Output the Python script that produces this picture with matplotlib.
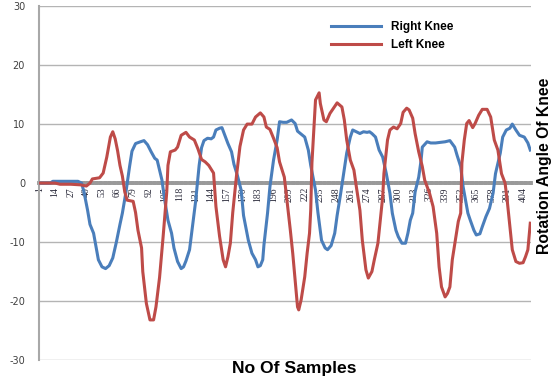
import matplotlib
matplotlib.use("Agg")
import matplotlib.pyplot as plt

# Right knee (blue) - sample number / angle
right_x = [1, 10, 12, 33, 36, 38, 41, 43, 46, 48, 50, 53, 56, 59, 62, 65, 68, 70, 73, 76,
           78, 81, 85, 88, 91, 94, 97, 99, 101, 103, 105, 108, 111, 113, 116, 119, 121, 123, 126, 128,
           131, 134, 136, 138, 141, 144, 146, 148, 151, 153, 155, 158, 161, 163, 166, 169, 171, 175, 178, 181,
           183, 185, 187, 188, 191, 193, 196, 199, 201, 204, 207, 211, 214, 216, 219, 222, 225, 227, 231, 233,
           236, 239, 241, 244, 247, 249, 252, 254, 257, 260, 262, 265, 268, 271, 274, 276, 278, 281, 284, 287,
           290, 293, 295, 298, 300, 303, 306, 308, 310, 312, 314, 317, 319, 320, 324, 327, 331, 335, 339, 343,
           347, 349, 352, 354, 356, 358, 360, 363, 365, 368, 370, 373, 376, 379, 381, 385, 387, 390, 393, 395,
           398, 401, 405, 408, 410]
right_y = [0, 0, 0.3, 0.3, 0, -1.5, -4.6, -7, -8.5, -10.8, -13, -14.2, -14.5, -14, -12.7, -10, -7, -5.1, -1.5, 2.8,
           5.4, 6.7, 7, 7.2, 6.5, 5.3, 4.2, 3.9, 2.2, 0.5, -2.5, -6.3, -8.5, -11, -13.3, -14.5, -14.2, -13.2, -11.3, -8,
           -3.2, 3, 6, 7.2, 7.6, 7.5, 7.8, 9, 9.3, 9.4, 8.3, 6.7, 5.3, 3.2, 1.2, -1.2, -5.5, -9.7, -11.9, -13,
           -14.2, -14, -13, -10.5, -5.1, -0.6, 3.9, 7.3, 10.4, 10.3, 10.3, 10.7, 10.1, 8.8, 8.3, 7.8, 5.6, 3, -1.2, -5,
           -9.7, -11, -11.3, -10.6, -8.5, -5.5, -1.7, 1, 5.1, 7.8, 9, 8.7, 8.4, 8.7, 8.6, 8.7, 8.4, 7.8, 5.6, 4.4,
           1.6, -1.7, -5.1, -8, -9.1, -10.2, -10.2, -8.5, -6.3, -5.1, -1.5, 1, 3.9, 6.1, 7, 6.8, 6.8, 6.9, 7, 7.2,
           6.1, 4.7, 2.8, -0.6, -2.9, -5.1, -6.3, -8, -8.8, -8.6, -7.4, -5.7, -4.3, -1.7, 1.6, 5.1, 7.8, 9, 9.3, 10,
           9, 8.1, 7.8, 6.8, 5.6]

# Left knee (red)
left_x = [1, 14, 18, 27, 35, 40, 43, 45, 51, 54, 57, 60, 62, 64, 66, 68, 70, 72, 74, 79,
          81, 83, 86, 87, 90, 93, 96, 98, 101, 104, 107, 108, 110, 114, 116, 119, 123, 126, 130, 133,
          136, 139, 142, 146, 148, 151, 154, 156, 158, 160, 162, 165, 168, 171, 174, 178, 181, 185, 188, 190,
          193, 196, 199, 201, 205, 207, 210, 212, 214, 216, 217, 219, 222, 224, 226, 227, 228, 230, 231, 234,
          235, 238, 240, 243, 246, 249, 253, 255, 257, 260, 263, 265, 268, 270, 273, 275, 278, 280, 283, 285,
          287, 288, 291, 293, 296, 299, 302, 304, 307, 309, 312, 314, 317, 320, 322, 326, 329, 332, 334, 336,
          339, 341, 343, 345, 348, 350, 352, 353, 355, 357, 359, 362, 364, 367, 370, 374, 377, 380, 383, 386,
          389, 391, 393, 395, 398, 401, 404, 406, 408, 410]
left_y = [0, 0, -0.2, -0.2, -0.3, -0.5, 0, 0.7, 0.9, 1.7, 4.4, 7.8, 8.7, 7.5, 5.5, 3, 1.2, -1.5, -2.9, -3.1,
          -5, -8, -11, -15, -20.4, -23.2, -23.2, -21, -16, -9, -1.5, 3, 5.3, 5.6, 6.1, 8.1, 8.6, 7.8, 7.3, 5.8,
          4, 3.6, 3, 1.7, -4, -9, -13, -14.2, -12.5, -10.2, -5, 1, 6.2, 9, 10, 10, 11.2, 11.9, 11.2, 9.5,
          9.1, 7.6, 6, 3.6, 1, -2.6, -8, -11.9, -16.4, -21, -21.5, -19.8, -15.9, -11.9, -8.5, -4.6, 3.4, 10.7, 14.1, 15.3,
          13.5, 10.7, 10.4, 11.8, 12.7, 13.6, 12.9, 10.7, 7.3, 3.9, 2.2, -0.6, -4.6, -9.7, -14.7, -16.1, -15, -13, -10.2, -6.3,
          -2.3, 1.6, 7.3, 9, 9.5, 9.2, 10.1, 12, 12.7, 12.4, 11, 8.4, 5.3, 2.8, 0.5, -1.7, -4, -8.5, -14.2, -17.6,
          -19.3, -18.7, -17.6, -13, -9.1, -6.5, -5.1, 3.4, 7.3, 10.1, 10.6, 9.4, 10.1, 11.5, 12.5, 12.5, 11.2, 7.3, 5.6, 1.6,
          0, -3.4, -7.4, -11.3, -13.3, -13.6, -13.5, -12.5, -11.3, -6.8]

tick_samples = list(range(1, 405, 13))
y_ticks = [-30, -20, -10, 0, 10, 20, 30]

fig = plt.figure(figsize=(5.53, 3.83), dpi=100)
ax = fig.add_axes([0.0705, 0.060, 0.8895, 0.924])

# lines above the dotted zero axis
ax.plot(right_x, right_y, color="#4a7ebb", lw=2.2, label="Right Knee", zorder=3)
ax.plot(left_x, left_y, color="#be4b48", lw=2.2, label="Left Knee", zorder=3)

ax.set_xlim(0.5, 410.5)
ax.set_ylim(-30, 30)
ax.set_yticks(y_ticks)
ax.set_yticklabels([str(v) for v in y_ticks], fontsize=7, color="#404040")
ax.yaxis.grid(True, color="#b4b4b4", lw=1)
ax.set_axisbelow(True)

# category axis crosses at zero, drawn as thick dotted grey line
ax.spines["bottom"].set_position(("data", 0))
ax.spines["bottom"].set_color("#9a9a9a")
ax.spines["bottom"].set_linewidth(2.8)
ax.spines["bottom"].set_linestyle((0, (0.75, 0.4)))
ax.spines["bottom"].set_zorder(2)
ax.spines["left"].set_color("#a8a8a8")
ax.spines["left"].set_linewidth(1.5)
ax.spines["top"].set_visible(False)
ax.spines["right"].set_visible(False)

ax.set_xticks(tick_samples)
ax.set_xticklabels([str(s) for s in tick_samples], rotation=90, fontsize=7,
                   family="Liberation Serif", color="#2a2a3a")
ax.tick_params(axis="x", length=0, pad=3)
ax.tick_params(axis="y", length=0, pad=10)

fig.text(0.5325, 0.0366, "No Of Samples", fontsize=12.6, fontweight="bold",
         family="Liberation Sans", ha="center", va="center")
fig.text(0.984, 0.567, "Rotation Angle Of Knee", fontsize=11.3, fontweight="bold",
         family="Liberation Sans", rotation=90, ha="center", va="center")

leg = ax.legend(loc="upper left", bbox_to_anchor=(0.573, 0.987), frameon=False,
                handlelength=4.2, handletextpad=0.85, labelspacing=0.45,
                prop={"family": "Liberation Sans", "weight": "bold", "size": 8.5})

fig.savefig("out.png", dpi=100)
